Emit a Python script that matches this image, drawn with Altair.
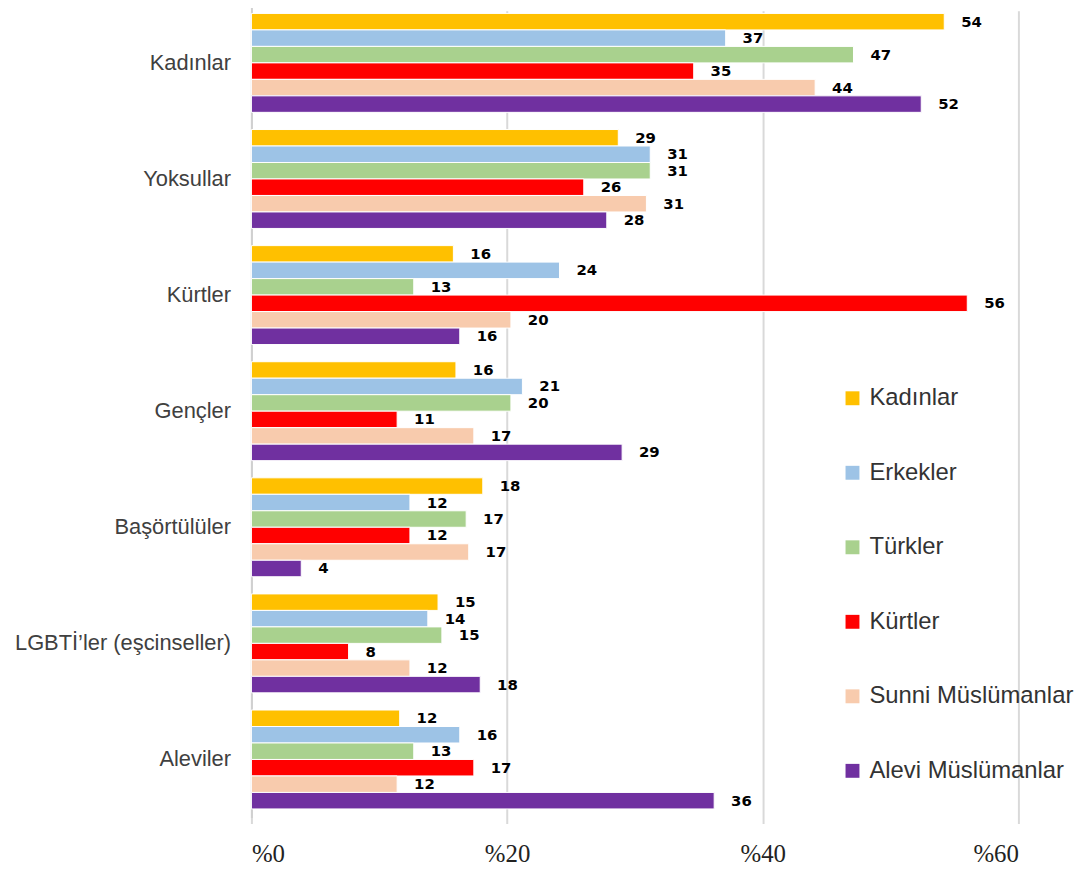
import altair as alt
import pandas as pd

categories = ["Kadınlar", "Yoksullar", "Kürtler", "Gençler", "Başörtülüler",
              "LGBTİ’ler (eşcinseller)", "Aleviler"]
series = ["Kadınlar", "Erkekler", "Türkler", "Kürtler", "Sunni Müslümanlar", "Alevi Müslümanlar"]
colors = ["#FFC000", "#9DC3E6", "#A9D18E", "#FF0000", "#F8CBAD", "#7030A0"]

# values per series, in the order of categories
kadinlar_v = [54.2, 28.7, 15.8, 16.0, 18.1, 14.6, 11.6]
erkekler_v = [37.1, 31.2, 24.1, 21.2, 12.4, 13.8, 16.3]
turkler_v = [47.1, 31.2, 12.7, 20.3, 16.8, 14.9, 12.7]
kurtler_v = [34.6, 26.0, 56.0, 11.4, 12.4, 7.6, 17.4]
sunni_v = [44.1, 30.9, 20.3, 17.4, 17.0, 12.4, 11.4]
alevi_v = [52.4, 27.8, 16.3, 29.0, 3.9, 17.9, 36.2]

# data labels as printed
kadinlar_l = [54, 29, 16, 16, 18, 15, 12]
erkekler_l = [37, 31, 24, 21, 12, 14, 16]
turkler_l = [47, 31, 13, 20, 17, 15, 13]
kurtler_l = [35, 26, 56, 11, 12, 8, 17]
sunni_l = [44, 31, 20, 17, 17, 12, 12]
alevi_l = [52, 28, 16, 29, 4, 18, 36]

vals = [kadinlar_v, erkekler_v, turkler_v, kurtler_v, sunni_v, alevi_v]
labs = [kadinlar_l, erkekler_l, turkler_l, kurtler_l, sunni_l, alevi_l]

rows = []
for s, vs, ls in zip(series, vals, labs):
    for c, v, l in zip(categories, vs, ls):
        rows.append({"category": c, "series": s, "value": v, "label": str(l)})
df = pd.DataFrame(rows)

base = alt.Chart(df).encode(
    y=alt.Y("category:N", sort=categories,
            scale=alt.Scale(range=[-6, 812], paddingInner=0.148, paddingOuter=0.074),
            axis=alt.Axis(title=None, ticks=False, domain=True, domainColor="#d0d0d0",
                          domainWidth=2, labelFont="Liberation Sans", labelFontSize=22,
                          labelColor="#404040", labelPadding=21, labelLimit=400)),
    yOffset=alt.YOffset("series:N", sort=series,
                        scale=alt.Scale(paddingInner=0, paddingOuter=0)),
)

bars = base.mark_bar(stroke="white", strokeWidth=1).encode(
    x=alt.X("value:Q", scale=alt.Scale(domain=[0, 60]),
            axis=alt.Axis(title=None, values=[0, 20, 40, 60], labelExpr="'%' + datum.value",
                          ticks=False, domain=False, grid=True, gridColor="#d9d9d9",
                          gridWidth=2, labelFont="Liberation Sans Narrow", labelFontSize=25,
                          labelColor="#222222", labelPadding=24)),
    color=alt.Color("series:N", sort=series,
                    scale=alt.Scale(domain=series, range=colors),
                    legend=alt.Legend(title=None, orient="none", legendX=593, legendY=378,
                                      symbolType="square", symbolSize=196, symbolStrokeWidth=0,
                                      labelFont="Liberation Sans", labelFontSize=24,
                                      labelColor="#333333", labelOffset=5, rowPadding=51,
                                      padding=0, labelLimit=400)),
)

text = base.mark_text(align="left", baseline="middle", dx=17, font="DejaVu Sans",
                      fontWeight="bold", fontSize=15, color="black").encode(
    x=alt.X("value:Q"),
    text=alt.Text("label:N"),
)

chart = alt.layer(bars, text).properties(
    width=772, height=812,
    autosize=alt.AutoSizeParams(type="none"),
    padding={"left": 245, "top": 0, "right": 62, "bottom": 50},
).configure_view(stroke=None)

chart.save("out.html", embed_options={"renderer": "svg", "actions": False})
